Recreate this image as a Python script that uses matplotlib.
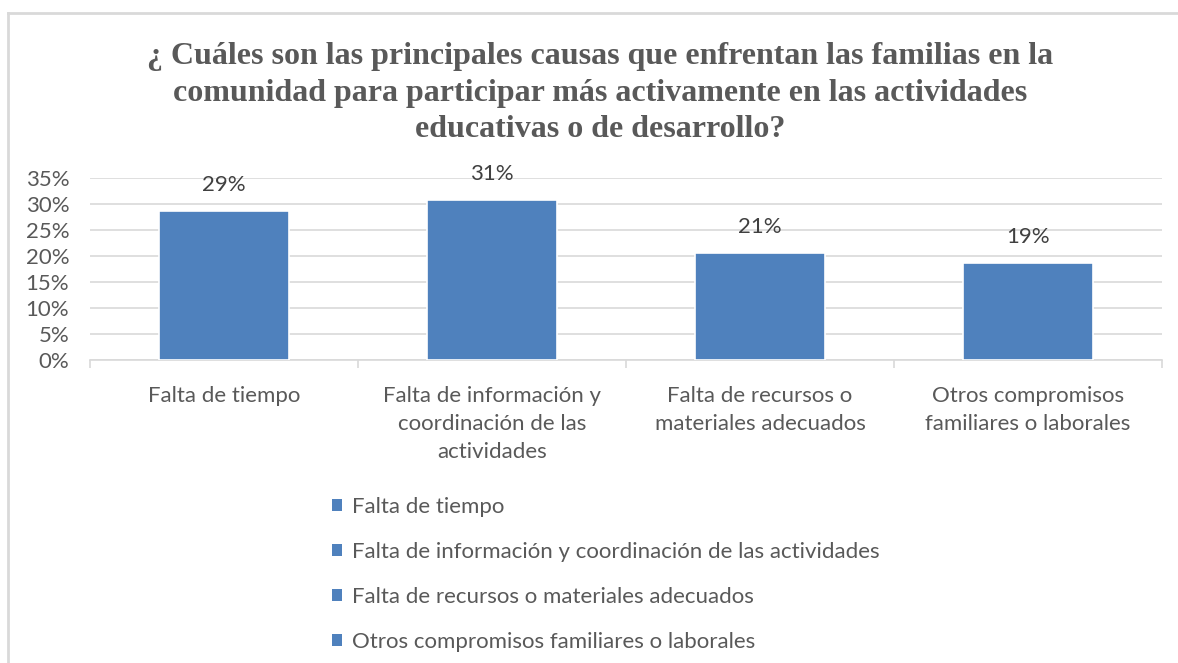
import numpy as np
import matplotlib.pyplot as plt
from matplotlib.patches import Patch
from matplotlib.lines import Line2D

# datos
categorias = ["Falta de tiempo",
              "Falta de información y\ncoordinación de las\nactividades",
              "Falta de recursos o\nmateriales adecuados",
              "Otros compromisos\nfamiliares o laborales"]
leyenda = ["Falta de tiempo",
           "Falta de información y coordinación de las actividades",
           "Falta de recursos o materiales adecuados",
           "Otros compromisos familiares o laborales"]
valores = [0.287, 0.308, 0.206, 0.187]
etiquetas = ["29%", "31%", "21%", "19%"]
ticks_y = [0, 0.05, 0.10, 0.15, 0.20, 0.25, 0.30, 0.35]
titulo = ("¿ Cuáles son las principales causas que enfrentan las familias en la\n"
          "comunidad para participar más activamente en las actividades\n"
          "educativas o de desarrollo?")

azul = "#4F81BD"
gris_txt = "#595959"
gris_lin = "#D9D9D9"
sans = ["Lato", "DejaVu Sans"]
fs = 16

fig = plt.figure(figsize=(11.78, 6.63), dpi=100)
ax = fig.add_axes([90/1178, 1-360/663, (1162-90)/1178, (360-178)/663])

x = np.arange(len(valores))
ax.bar(x, valores, width=0.485, color=azul, edgecolor="white", linewidth=1.2, zorder=3)
for xi, v, t in zip(x, valores, etiquetas):
    ax.text(xi, v + 0.05, t, ha="center", va="center", fontsize=fs,
            color="#404040", family=sans)

ax.set_xlim(-0.5, len(valores) - 0.5)
ax.set_ylim(0, 0.35)
ax.set_yticks(ticks_y)
ax.set_yticklabels([f"{int(round(t*100))}%" for t in ticks_y], family=sans,
                   fontsize=fs, color=gris_txt)
ax.set_xticks(x)
ax.set_xticklabels(categorias, family=sans, fontsize=fs, color=gris_txt,
                   linespacing=1.48)
ax.tick_params(axis="y", length=0, pad=15)
ax.tick_params(axis="x", length=0, pad=19)
# marcas entre categorías
ax.set_xticks(np.arange(len(valores) + 1) - 0.5, minor=True)
ax.tick_params(axis="x", which="minor", length=6, color=gris_lin, width=1.2)

ax.grid(axis="y", color=gris_lin, linewidth=1.2, zorder=0)
for s in ["top", "right", "left"]:
    ax.spines[s].set_visible(False)
ax.spines["bottom"].set_color(gris_lin)
ax.spines["bottom"].set_linewidth(1.2)

fig.text(600/1178, 1-93/663, titulo, ha="center", va="center", fontsize=23,
         fontweight="bold", family=["Liberation Serif"], color=gris_txt,
         linespacing=1.36)

handles = [Patch(facecolor=azul, edgecolor="none") for _ in leyenda]
leg = fig.legend(handles, leyenda, loc="upper left",
                 bbox_to_anchor=(312/1178, 1-477/663), frameon=False,
                 prop={"family": sans, "size": fs}, handlelength=0.45,
                 handleheight=0.45, handletextpad=0.45, labelspacing=1.12)
for t in leg.get_texts():
    t.set_color(gris_txt)

# borde del área del gráfico
fig.add_artist(Line2D([8/1178, 8/1178], [0, 1-13/663], color=gris_lin, linewidth=2))
fig.add_artist(Line2D([8/1178, 1], [1-13/663, 1-13/663], color=gris_lin, linewidth=2))

fig.savefig("out.png", dpi=100, facecolor="white")
